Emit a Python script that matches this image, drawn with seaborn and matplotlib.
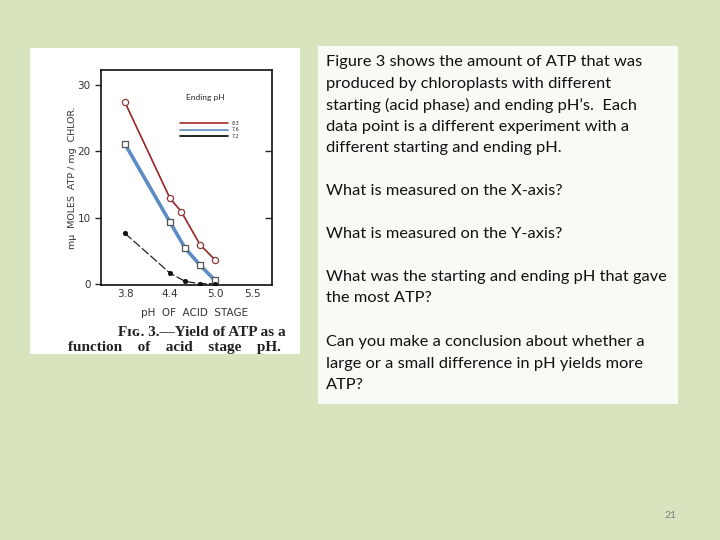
import pandas as pd
import seaborn as sns
import matplotlib.pyplot as plt
from matplotlib.patches import Rectangle
from matplotlib.lines import Line2D

# values
acid_ph = [3.8, 4.4, 4.55, 4.8, 5.0]
atp_high = [27.4, 12.9, 10.9, 5.9, 3.6]      # open circles, red
acid_ph_mid = [3.8, 4.4, 4.6, 4.8, 5.0]
atp_mid = [21.1, 9.3, 5.4, 2.8, 0.5]         # open squares, blue
atp_low = [7.6, 1.6, 0.35, 0.0, 0.0]         # filled circles, dashed
ending_labels = ['8.3', '7.6', '7.2']
x_ticks = [3.8, 4.4, 5.0, 5.5]
y_ticks = [0, 10, 20, 30]

df_high = pd.DataFrame({'ph': acid_ph, 'atp': atp_high})
df_mid = pd.DataFrame({'ph': acid_ph_mid, 'atp': atp_mid})
df_low = pd.DataFrame({'ph': acid_ph_mid, 'atp': atp_low})

sns.set_style('white')
plt.rcParams['font.family'] = ['DejaVu Sans']

fig = plt.figure(figsize=(7.2, 5.4), dpi=100, facecolor='#d7e4bd')

# white picture box and the text box
img_box = Rectangle((30 / 720, 1 - 354 / 540), 270 / 720, 306 / 540,
                    transform=fig.transFigure, facecolor='white', edgecolor='none', zorder=-1)
fig.patches.append(img_box)
txt_box = Rectangle((318 / 720, 1 - 404 / 540), 360 / 720, 358 / 540,
                    transform=fig.transFigure, facecolor='#f8faf4', edgecolor='none', zorder=-1)
fig.patches.append(txt_box)

ax = fig.add_axes([101 / 720, 1 - 285 / 540, 171 / 720, 215 / 540])
ax.set_zorder(2)
ax.set_facecolor('white')

# the scanned black curves
sns.lineplot(data=df_high, x='ph', y='atp', ax=ax, color='#222222', lw=0.8, zorder=2)
sns.lineplot(data=df_mid, x='ph', y='atp', ax=ax, color='#222222', lw=0.8, zorder=2)
sns.lineplot(data=df_low, x='ph', y='atp', ax=ax, color='#222222', lw=0.9,
             zorder=2, linestyle=(0, (7, 2)))
# coloured overlays
sns.lineplot(data=df_high, x='ph', y='atp', ax=ax, color='#a52a2a', lw=1.1, zorder=3)
sns.lineplot(data=df_mid, x='ph', y='atp', ax=ax, color='#5b8cc4', lw=2.6, zorder=3)

sns.scatterplot(data=df_high, x='ph', y='atp', ax=ax, marker='o', s=20,
                facecolor='white', edgecolor='#8a3a3a', linewidth=0.9, zorder=4)
sns.scatterplot(data=df_mid, x='ph', y='atp', ax=ax, marker='s', s=16,
                facecolor='white', edgecolor='#555555', linewidth=0.9, zorder=4)
sns.scatterplot(data=df_low, x='ph', y='atp', ax=ax, marker='o', s=12,
                color='#111111', edgecolor='#111111', zorder=4)

ax.set_xlim(3.48, 5.76)
ax.set_ylim(-0.2, 32.3)
ax.set_xticks(x_ticks)
ax.set_xticklabels([f'{v:.1f}' for v in x_ticks])
ax.set_yticks(y_ticks)
ax.set_yticklabels([str(v) for v in y_ticks])
ax.tick_params(axis='x', length=0, labelsize=7.5, labelcolor='#333333', pad=3)
ax.tick_params(axis='y', direction='out', length=4, width=1,
               labelsize=7.5, labelcolor='#333333', left=True, right=False)
for sp in ax.spines.values():
    sp.set_color('#111111')
    sp.set_linewidth(1.2)

# inward ticks on the right edge
tw = ax.twinx()
tw.set_ylim(ax.get_ylim())
tw.set_yticks([10, 20])
tw.tick_params(axis='y', direction='in', length=5, width=1, labelright=False, right=True)
tw.grid(False)
for sp in tw.spines.values():
    sp.set_visible(False)

ax.set_xlabel('pH  OF  ACID  STAGE', fontsize=7.5, color='#333333')
ax.xaxis.set_label_coords(0.545, -0.105)
ax.set_ylabel('mμ  MOLES  ATP / mg  CHLOR.', fontsize=6.8, color='#333333')
ax.yaxis.set_label_coords(-0.14, 0.5)

ax.text(0.61, 0.87, 'Ending pH', transform=ax.transAxes, fontsize=6,
        family=['Lato', 'DejaVu Sans'], ha='center', va='center')
handles = [Line2D([], [], color='#a52a2a', lw=1.2),
           Line2D([], [], color='#5b8cc4', lw=1.2),
           Line2D([], [], color='black', lw=1.2)]
ax.legend(handles, ending_labels, loc='upper left', bbox_to_anchor=(0.46, 0.765),
          frameon=False, fontsize=3.5, handlelength=10, handletextpad=0.6,
          labelspacing=0.35, borderpad=0, borderaxespad=0)

# caption of the scanned figure
fig.text(202 / 720, 1 - 332 / 540, 'Fɪɢ. 3.—Yield of ATP as a',
         family=['Liberation Serif', 'DejaVu Serif'], fontsize=11, weight='bold',
         ha='center', va='center', color='#222222')
cap2 = fig.text(174 / 720, 1 - 348 / 540, 'function    of    acid    stage    pH.',
                family=['Liberation Serif', 'DejaVu Serif'], fontsize=11, weight='bold',
                ha='center', va='center', color='#222222')
cap2.set_clip_path(img_box)

# slide text
lines = [
    (62, 'Figure 3 shows the amount of ATP that was'),
    (84, 'produced by chloroplasts with different'),
    (105, 'starting (acid phase) and ending pH’s.  Each'),
    (127, 'data point is a different experiment with a'),
    (148, 'different starting and ending pH.'),
    (191, 'What is measured on the X-axis?'),
    (234, 'What is measured on the Y-axis?'),
    (277, 'What was the starting and ending pH that gave'),
    (298, 'the most ATP?'),
    (342, 'Can you make a conclusion about whether a'),
    (364, 'large or a small difference in pH yields more'),
    (385, 'ATP?'),
]
for y, s in lines:
    fig.text(326 / 720, 1 - y / 540, s, family=['Lato', 'DejaVu Sans'],
             fontsize=11.8, ha='left', va='center', color='#111111')

fig.text(670 / 720, 1 - 515 / 540, '21', family=['Lato', 'DejaVu Sans'],
         fontsize=7.5, ha='center', va='center', color='#7f7f7f')

fig.savefig('out.png', dpi=100, facecolor=fig.get_facecolor())
